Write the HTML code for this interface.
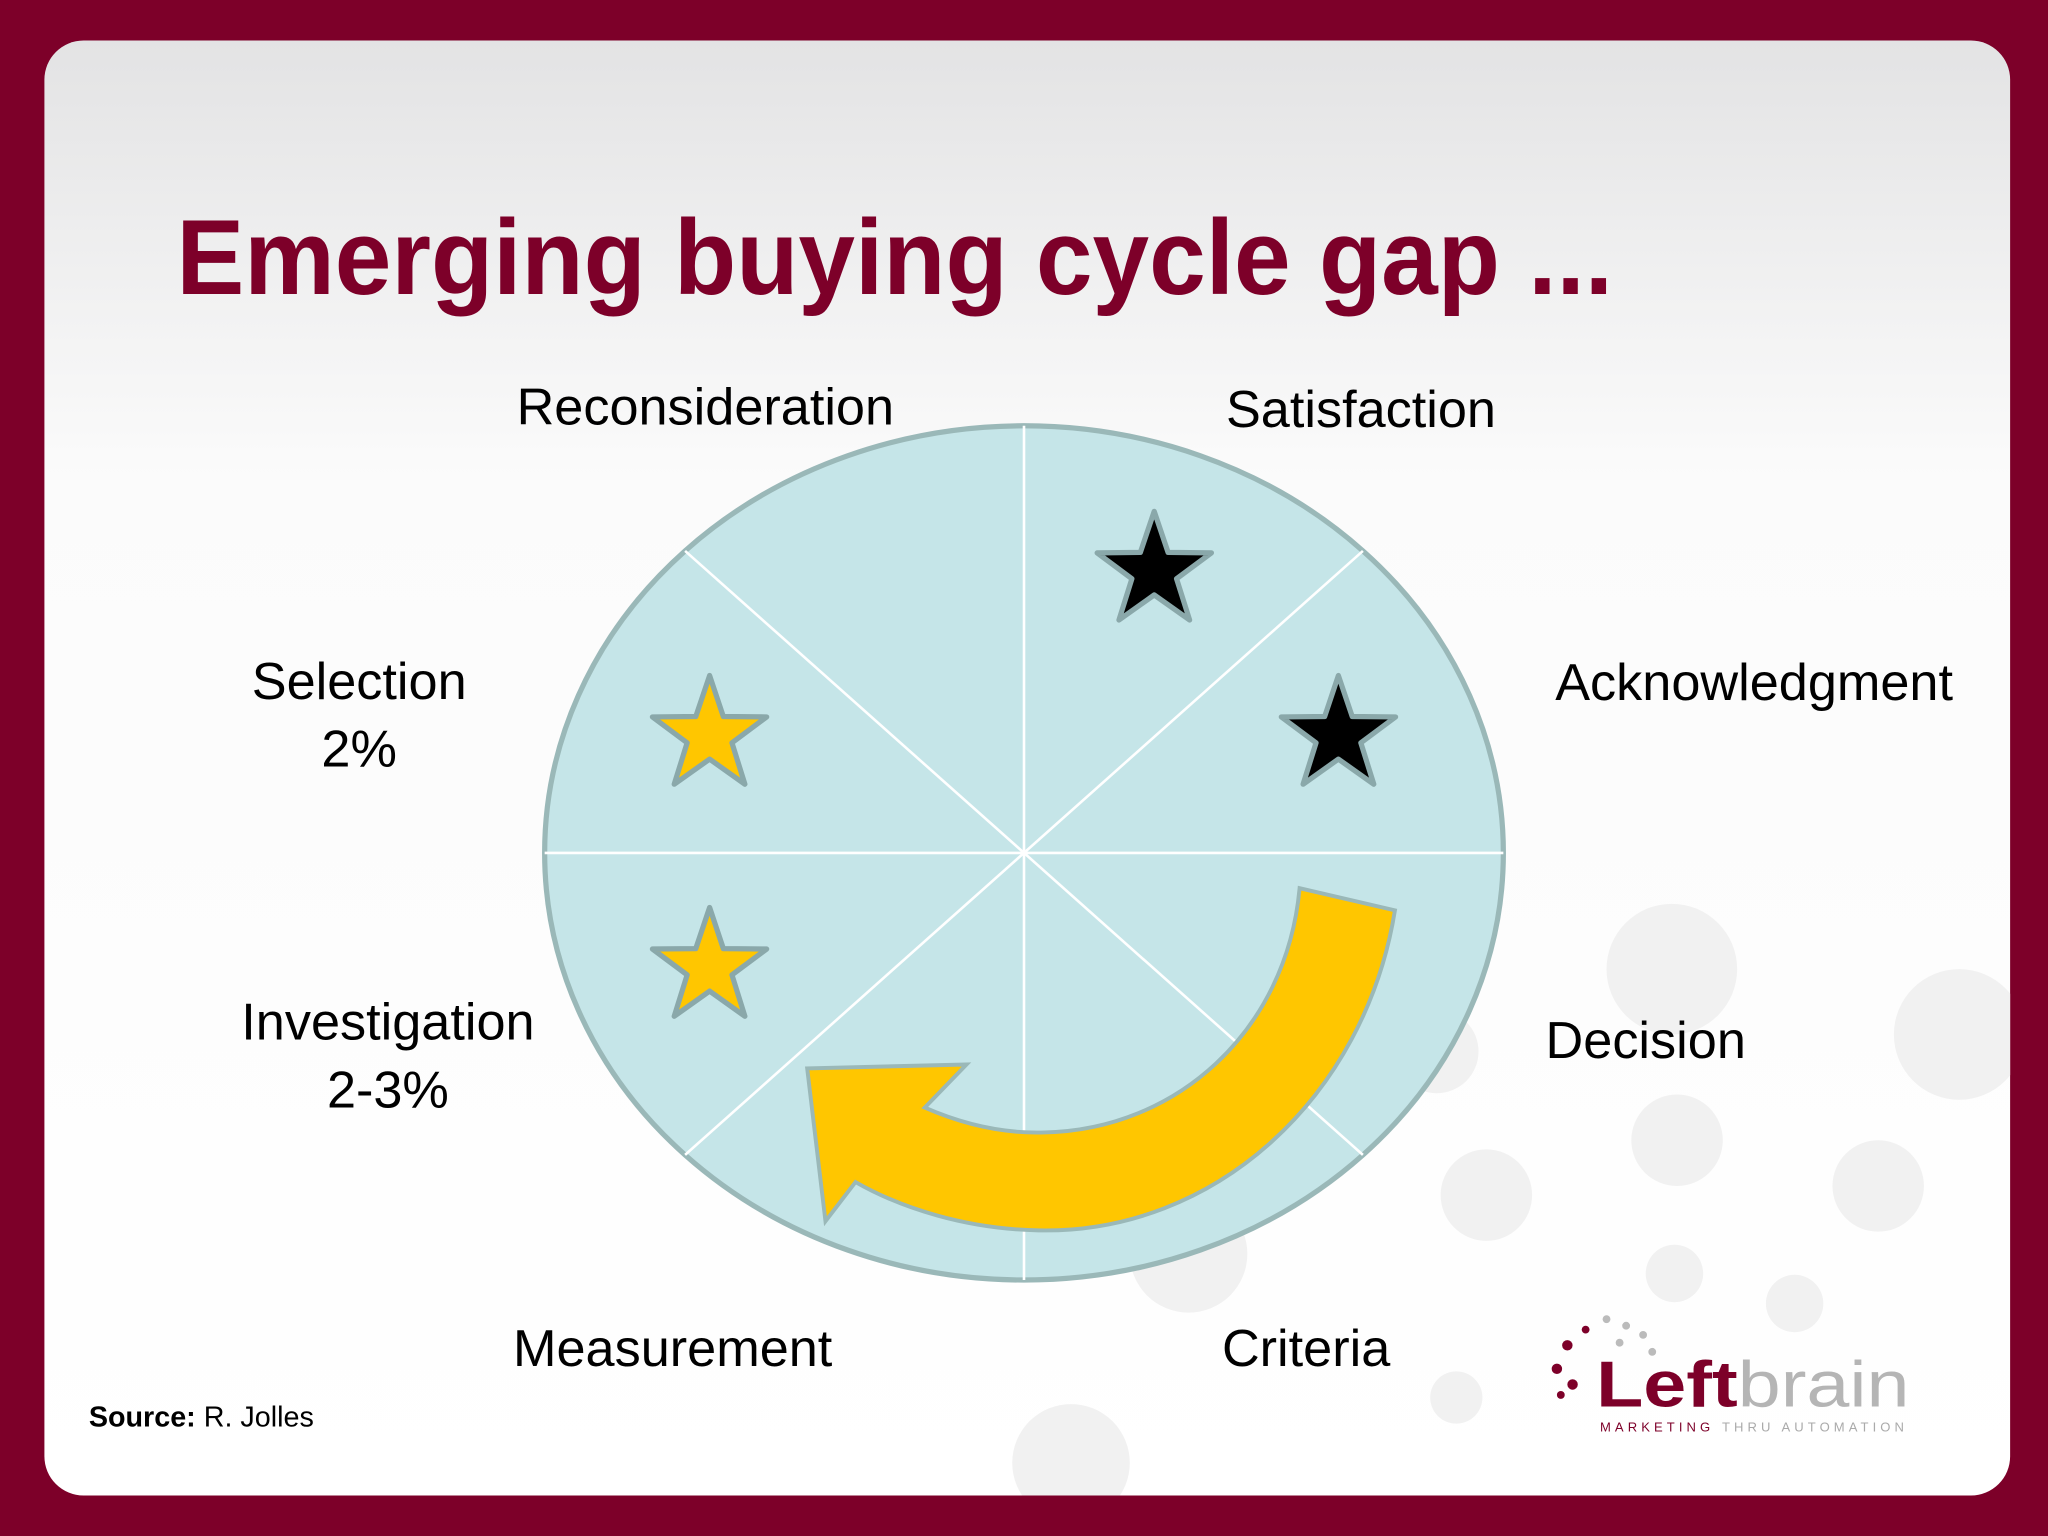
<!DOCTYPE html>
<html><head><meta charset="utf-8"><style>
html,body{margin:0;padding:0;background:#7d0029;}
svg{display:block}
</style></head><body>
<svg width="2048" height="1536" viewBox="0 0 1568 1176" xmlns="http://www.w3.org/2000/svg">
<defs>
<linearGradient id="bg" x1="0" y1="0" x2="0" y2="1">
<stop offset="0" stop-color="#e3e3e4"/><stop offset="0.3" stop-color="#fbfbfb"/><stop offset="1" stop-color="#ffffff"/>
</linearGradient>
<clipPath id="panel"><rect x="34" y="31" width="1505" height="1114" rx="30"/></clipPath>
</defs>
<rect x="0" y="0" width="1568" height="1176" fill="#7d0029"/>
<rect x="34" y="31" width="1505" height="1114" rx="30" fill="url(#bg)"/>
<g fill="#f1f1f1" clip-path="url(#panel)">
<circle cx="1280" cy="742" r="50"/><circle cx="1500" cy="792" r="50"/><circle cx="1284" cy="873" r="35"/>
<circle cx="1438" cy="908" r="35"/><circle cx="1138" cy="915" r="35"/><circle cx="1282" cy="975" r="22"/>
<circle cx="1374" cy="998" r="22"/><circle cx="1100" cy="805" r="32"/><circle cx="1115" cy="1070" r="20"/>
<circle cx="820" cy="1120" r="45"/><circle cx="910" cy="960" r="45"/>
</g>
<text x="135" y="225" font-family="Liberation Sans, sans-serif" font-weight="bold" font-size="82" fill="#7d0029" textLength="1100" lengthAdjust="spacingAndGlyphs">Emerging buying cycle gap ...</text>
<g id="wheel">
<ellipse cx="784" cy="653" rx="367" ry="327" fill="#c5e5e8" stroke="#9ab8b8" stroke-width="4"/>
</g>
<path d="M995 680 L1068 697 C1045 840 930 945 795 942 C740 941 690 925 655 905 L632 935 L618 818 L740 815 L708 848 C740 862 770 868 800 867 C900 865 985 790 995 680 Z" fill="#ffc600" stroke="#9ab8b8" stroke-width="3"/>
<g id="labels" font-family="Liberation Sans, sans-serif" font-size="40" fill="#000"></g>
<text x="68" y="1092" font-family="Liberation Sans, sans-serif" font-size="22"><tspan font-weight="bold">Source:</tspan> R. Jolles</text>
<g>
<g fill="#7d0029"><circle cx="1200" cy="1030" r="4"/><circle cx="1192" cy="1048" r="4"/><circle cx="1204" cy="1060" r="4"/><circle cx="1214" cy="1018" r="3"/><circle cx="1195" cy="1068" r="3"/></g>
<g fill="#bbb"><circle cx="1230" cy="1010" r="3"/><circle cx="1245" cy="1015" r="3"/><circle cx="1258" cy="1022" r="3"/><circle cx="1240" cy="1028" r="3"/><circle cx="1265" cy="1035" r="3"/></g>
<text x="1222" y="1077" font-family="Liberation Sans, sans-serif" font-size="50" font-weight="bold" fill="#7d0029" textLength="240" lengthAdjust="spacingAndGlyphs">Left<tspan font-weight="normal" fill="#b5b5b5">brain</tspan></text>
<text x="1225" y="1096" font-family="Liberation Sans, sans-serif" font-size="10" letter-spacing="2.3" fill="#7d0029" textLength="235">MARKETING <tspan fill="#aaa">THRU AUTOMATION</tspan></text>
</g>
<script>
const stages = ["Reconsideration","Satisfaction","Acknowledgment","Decision","Criteria","Measurement","Investigation","Selection"];
const stageLines = [["Reconsideration"],["Satisfaction"],["Acknowledgment"],["Decision"],["Criteria"],["Measurement"],["Investigation","2-3%"],["Selection","2%"]];
const starColors = ["#000000","#000000","#ffc600","#ffc600"];
const starSectors = [0.5,1.5,6.5,5.5];
const NS="http://www.w3.org/2000/svg";
const cx=784, cy=653, rx=367, ry=327;
const wheel=document.getElementById('wheel');
const dirs=[[0,-1],[0.707,-0.707],[1,0],[0.707,0.707]];
dirs.forEach(function(d,i){
  const l=document.createElementNS(NS,'line');
  l.setAttribute('x1',cx-d[0]*rx);l.setAttribute('y1',cy-d[1]*ry);
  l.setAttribute('x2',cx+d[0]*rx);l.setAttribute('y2',cy+d[1]*ry);
  l.setAttribute('stroke','#ffffff');l.setAttribute('stroke-width','2');
  
  
  wheel.appendChild(l);
});
const labelPos=[[540,325,"middle"],[1042,327,"middle"],[1343,536,"middle"],[1260,810,"middle"],[1000,1046,"middle"],[515,1046,"middle"],[297,796,"middle"],[275,535,"middle"]];
const lg=document.getElementById('labels');
stageLines.forEach(function(lines,i){
  const t=document.createElementNS(NS,'text');
  t.setAttribute('x',labelPos[i][0]);t.setAttribute('y',labelPos[i][1]);t.setAttribute('text-anchor',labelPos[i][2]);
  
  
  lines.forEach(function(s,j){
    const sp=document.createElementNS(NS,'tspan');
    sp.setAttribute('x',labelPos[i][0]);sp.setAttribute('dy',j?52:0);sp.textContent=s;t.appendChild(sp);
  });
  lg.appendChild(t);
});
function starPath(x,y,R,r){let p='';for(let k=0;k<10;k++){const a=-Math.PI/2+k*Math.PI/5;const rr=k%2?r:R;p+=(k?'L':'M')+(x+rr*Math.cos(a)).toFixed(1)+' '+(y+rr*Math.sin(a)).toFixed(1);}return p+'Z';}
starSectors.forEach(function(s,i){
  const a=-Math.PI/2+s*Math.PI/4;
  const x=cx+0.71*rx*Math.cos(a), y=cy+0.71*ry*Math.sin(a)-5;
  const st=document.createElementNS(NS,'path');
  st.setAttribute('d',starPath(x,y+4,46,18));
  st.setAttribute('fill',starColors[i]);st.setAttribute('stroke','#8aa8aa');st.setAttribute('stroke-width','4');st.setAttribute('stroke-linejoin','round');
  
  
  wheel.appendChild(st);
});
</script>
</svg>
</body></html>
